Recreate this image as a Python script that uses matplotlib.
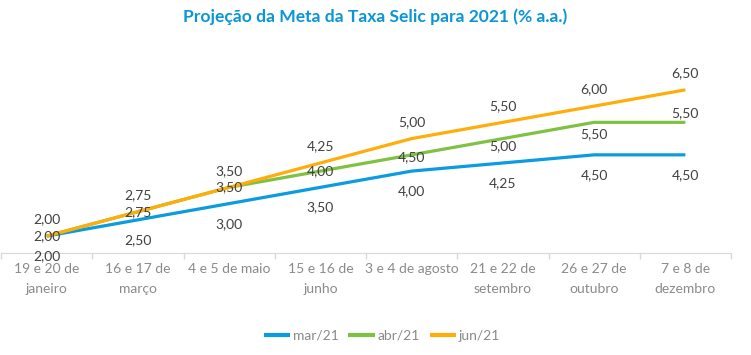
import matplotlib.pyplot as plt

# Projeção da Meta da Taxa Selic (Focus) por reunião do Copom
categories = [
    "19 e 20 de\njaneiro", "16 e 17 de\nmarço", "4 e 5 de maio", "15 e 16 de\njunho",
    "3 e 4 de agosto", "21 e 22 de\nsetembro", "26 e 27 de\noutubro", "7 e 8 de\ndezembro",
]
mar21 = [2.00, 2.50, 3.00, 3.50, 4.00, 4.25, 4.50, 4.50]
abr21 = [2.00, 2.75, 3.50, 4.00, 4.50, 5.00, 5.50, 5.50]
jun21 = [2.00, 2.75, 3.50, 4.25, 5.00, 5.50, 6.00, 6.50]
series_names = ["mar/21", "abr/21", "jun/21"]

# label offsets in points (vertical), per series
abr_offsets = [0, 0, 0, 0, -1.5, -5.4, -8.6, 6.5]
BLUE, GREEN, ORANGE = "#0a9be0", "#7fc241", "#ffad0a"
LABEL_COLOR = "#404040"
GRAY = "#8a8a8a"
FONT = "Lato"

plt.rcParams['font.family'] = [FONT, 'DejaVu Sans']

fig = plt.figure(figsize=(7.51, 3.55), dpi=100)
W, H = 751, 355
ymin, ymax = 1.48, 7.5
px_per_unit = 32.5
ax_bottom = 253
ax_h = (ymax - ymin) * px_per_unit
ax = fig.add_axes([1 / W, (H - ax_bottom) / H, 730 / W, ax_h / H])

x = list(range(len(categories)))
l1, = ax.plot(x, mar21, color=BLUE, lw=2.3, solid_capstyle='butt', zorder=3)
l2, = ax.plot(x, abr21, color=GREEN, lw=2.3, solid_capstyle='butt', zorder=4)
l3, = ax.plot(x, jun21, color=ORANGE, lw=2.3, solid_capstyle='butt', zorder=5)

def fmt(v):
    return f"{v:.2f}".replace(".", ",")

LBL = 10
for xi, v in zip(x, mar21):
    ax.annotate(fmt(v), (xi, v), xytext=(0, -14.5), textcoords='offset points',
                ha='center', va='center', fontsize=LBL, color=LABEL_COLOR, zorder=6)
for xi, v, off in zip(x, abr21, abr_offsets):
    ax.annotate(fmt(v), (xi, v), xytext=(0, off), textcoords='offset points',
                ha='center', va='center', fontsize=LBL, color=LABEL_COLOR, zorder=6)
for xi, v in zip(x, jun21):
    ax.annotate(fmt(v), (xi, v), xytext=(0, 12), textcoords='offset points',
                ha='center', va='center', fontsize=LBL, color=LABEL_COLOR, zorder=6)

ax.set_xlim(-0.5, len(categories) - 0.5)
ax.set_ylim(ymin, ymax)
ax.set_yticks([])
ax.set_xticks(x)
ax.set_xticklabels(categories, fontsize=10, color=GRAY, linespacing=1.75)
ax.set_xticks([i - 0.5 for i in range(len(categories) + 1)], minor=True)
ax.tick_params(axis='x', which='major', length=0, pad=7.5)
ax.tick_params(axis='x', which='minor', length=4, color="#d9d9d9", width=1)
for s in ['top', 'right', 'left']:
    ax.spines[s].set_visible(False)
ax.spines['bottom'].set_color("#d9d9d9")
ax.patch.set_alpha(0)

fig.text(375 / W, 1 - 17 / H, "Projeção da Meta da Taxa Selic para 2021 (% a.a.)",
         ha='center', va='center', fontsize=12.6, fontweight='bold', color="#0a96d6")

fig.legend([l1, l2, l3], series_names, loc='center', bbox_to_anchor=(382 / W, 1 - 336 / H),
           ncol=3, frameon=False, fontsize=10, labelcolor=GRAY, handlelength=1.9,
           handletextpad=0.2, columnspacing=0.7)
for h in fig.legends[0].get_lines():
    h.set_linewidth(3)

fig.savefig("out.png", dpi=100)
